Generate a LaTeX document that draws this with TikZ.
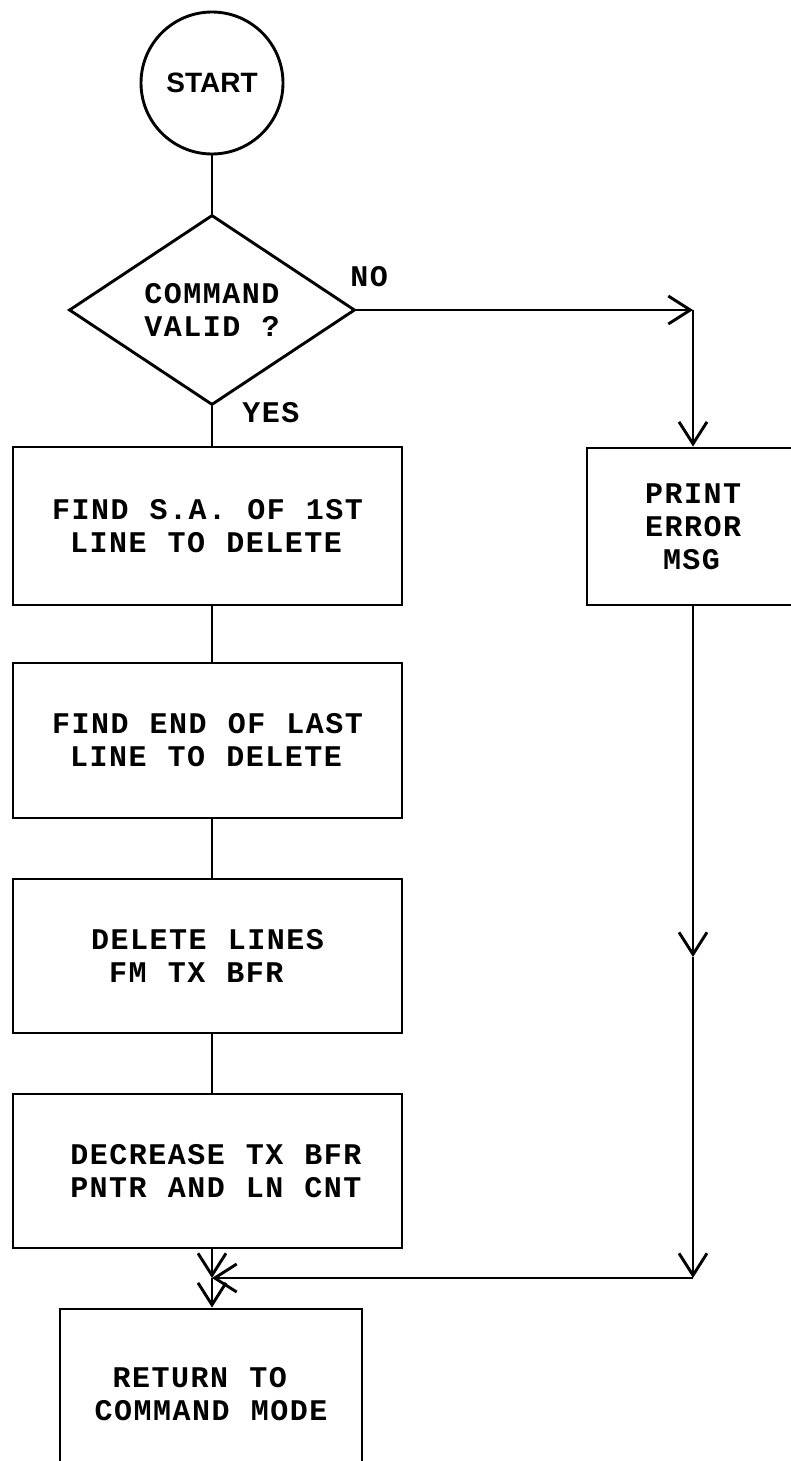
\documentclass[tikz,border=0pt]{standalone}
\usepackage{fontspec}
\newfontfamily\typer[LetterSpace=5,WordSpace={1.08,0,0}]{Liberation Mono}
\newfontfamily\lettering{Liberation Sans}
\usetikzlibrary{shapes.geometric,arrows.meta}
% one typewriter column of indent
\newcommand\ind{\hphantom{X}}
% keep the typewriter's own word space inside fixed-width text
\newcommand\natspace{\spaceskip=0pt\relax}
\tikzset{
  ink/.style={line width=2.9pt, line join=miter},
  tw/.style={font=\typer\bfseries\fontsize{30}{33}\selectfont},
  stepbox/.style={ink, draw, rectangle, inner sep=0pt, tw, align=left},
  startnode/.style={ink, draw, circle, minimum size=142pt, inner sep=0pt,
    font=\lettering\bfseries\fontsize{28}{30}\selectfont},
  decision/.style={ink, draw, diamond, minimum width=286pt, minimum height=190pt,
    inner sep=0pt, tw, align=left},
  lbl/.style={tw, inner sep=0pt},
  arr/.style={ink, -{Straight Barb[length=22pt,width=28pt]}}
}
\begin{document}
\begin{tikzpicture}[x=1pt,y=-1pt]
\useasboundingbox (0,0) rectangle (791,1461);
\fill[white] (0,0) rectangle (791,1461);
\clip (0,0) rectangle (791,1461);

% main column
\node[startnode] (start) at (212,83) {START};
\node[decision] (valid) at (212,310) {COMMAND\\VALID ?};
\node[stepbox, minimum width=389pt, minimum height=158pt] (b1) at (207.5,526)
  {FIND S.A. OF 1ST\\\ind LINE TO DELETE};
\node[stepbox, minimum width=389pt, minimum height=155pt] (b2) at (207.5,740.5)
  {FIND END OF LAST\\\ind LINE TO DELETE};
\node[stepbox, minimum width=389pt, minimum height=154pt] (b3) at (207.5,956)
  {DELETE LINES\\\ind FM TX BFR};
\node[stepbox, minimum width=389pt, minimum height=154pt, text width=308pt, align=right] (b4) at (207.5,1171)
  {\natspace DECREASE TX BFR\\PNTR AND LN CNT};
\node[stepbox, minimum width=302pt, minimum height=171pt] (ret) at (211,1394.5)
  {\ind RETURN TO\\COMMAND MODE};

% error branch
\node[stepbox, minimum width=212pt, minimum height=157pt] (pe) at (693,526.5)
  {PRINT\\ERROR\\\ind MSG};

% branch labels
\node[lbl] (no) at (369,277) {NO};
\node[lbl] (yes) at (271,413) {YES};

% connectors
\draw[ink] (start.south) -- (valid.north);
\draw[ink] (valid.south) -- (valid.south |- b1.north);
\draw[ink] (b1.south -| valid.south) -- (b2.north -| valid.south);
\draw[ink] (b2.south -| valid.south) -- (b3.north -| valid.south);
\draw[ink] (b3.south -| valid.south) -- (b4.north -| valid.south);

\coordinate (m) at (212,1278);
\coordinate (c1) at (pe.north |- valid.east);
\coordinate (mid) at (693,957);
\coordinate (c2) at (693,1278);

\draw[arr] (b4.south -| valid.south) -- (m);
\draw[arr] (m) -- (m |- ret.north);
\draw[arr] (valid.east) -- (c1);
\draw[arr] (c1) -- (pe.north);
\draw[arr] (pe.south) -- (mid);
\draw[arr] (mid) -- (c2);
\draw[arr] (c2) -- (m);
\end{tikzpicture}
\end{document}
